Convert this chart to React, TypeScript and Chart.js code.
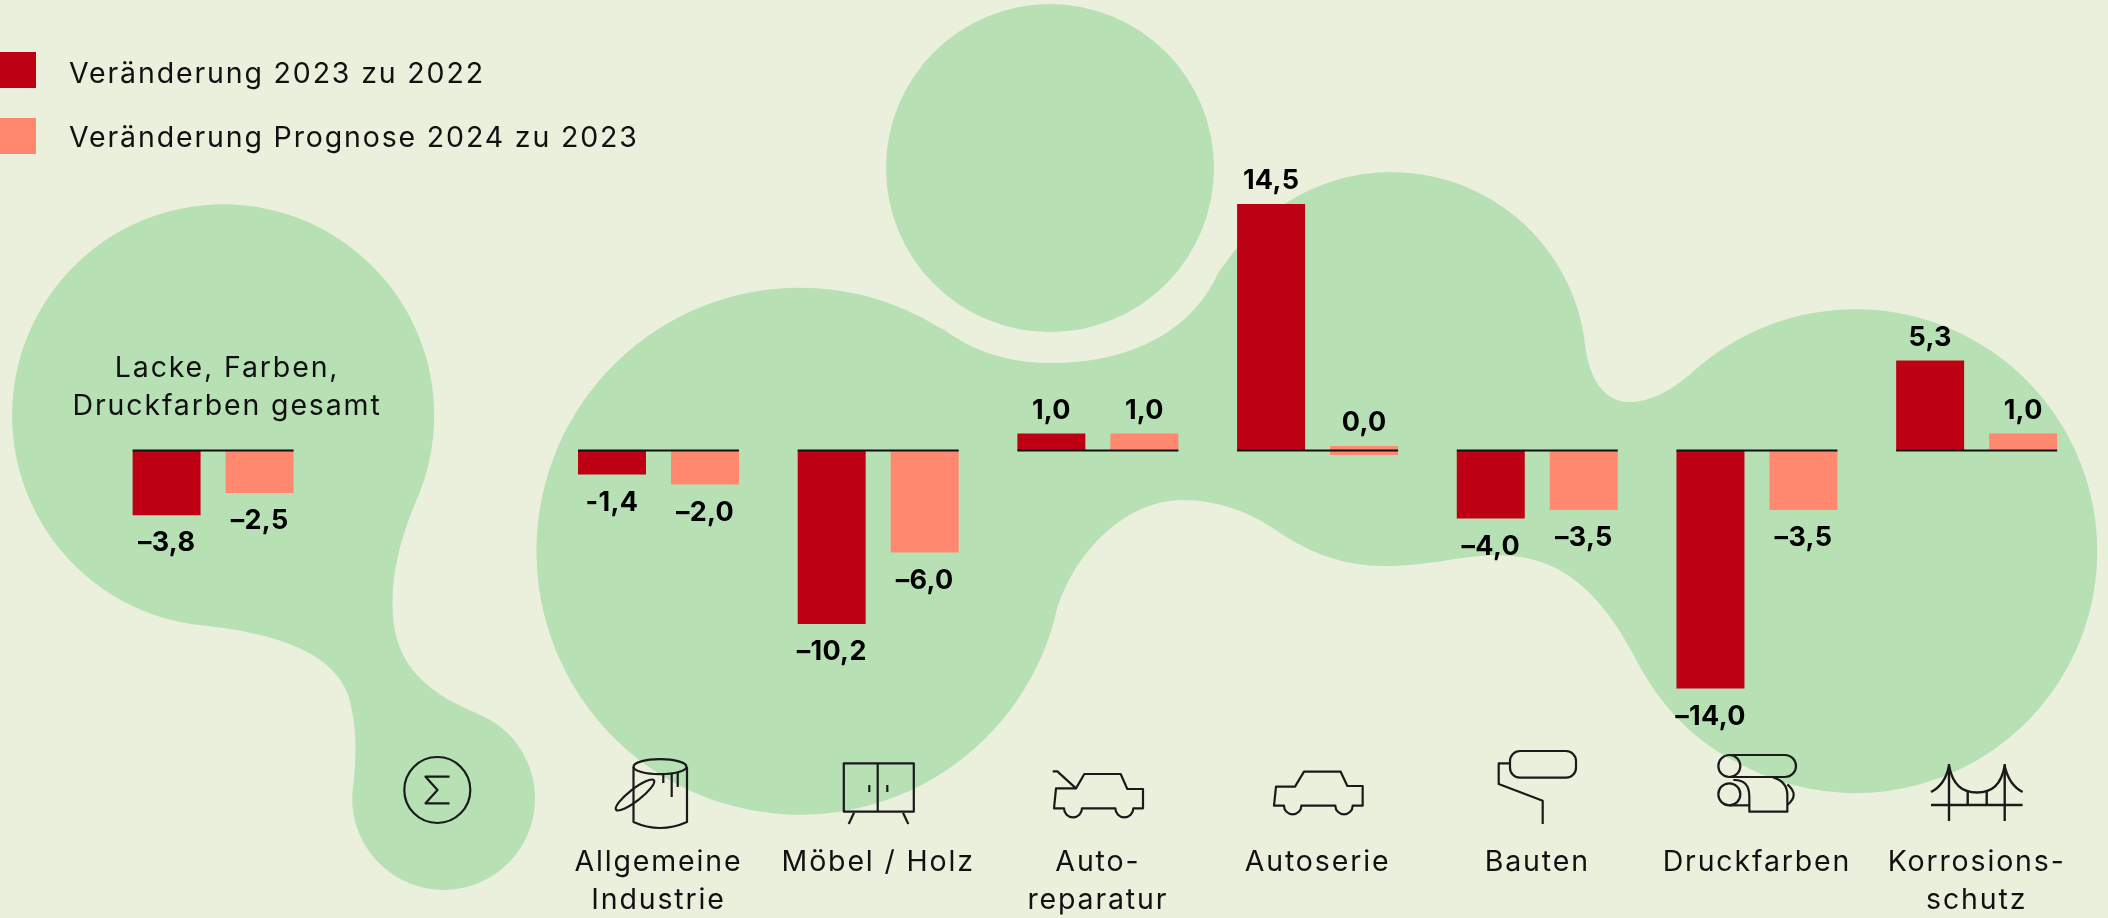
import React, { useEffect, useRef } from "react";
import { Chart, CategoryScale, registerables } from "chart.js";

Chart.register(...registerables);

class SlotCategoryScale extends CategoryScale {
  static id = "slotCategory";
  static defaults = CategoryScale.defaults;
  getPixelForValue(value: any, index?: number) {
    const px = super.getPixelForValue(value, index);
    const v = typeof value === "number" ? value : this.parse(value);
    return v === 0 ? px - 6 : px;
  }
}
Chart.register(SlotCategoryScale);

const categories: (string | string[])[] = [
  ["Lacke, Farben,", "Druckfarben gesamt"],
  "",
  ["Allgemeine", "Industrie"],
  "Möbel / Holz",
  ["Auto-", "reparatur"],
  "Autoserie",
  "Bauten",
  "Druckfarben",
  ["Korrosions-", "schutz"],
];
const change2023 = [-3.8, null, -1.4, -10.2, 1.0, 14.5, -4.0, -14.0, 5.3];
const forecast2024 = [-2.5, null, -2.0, -6.0, 1.0, 0.0, -3.5, -3.5, 1.0];
const labels2023 = ["–3,8", "", "-1,4", "–10,2", "1,0", "14,5", "–4,0", "–14,0", "5,3"];
const labels2024 = ["–2,5", "", "–2,0", "–6,0", "1,0", "0,0", "–3,5", "–3,5", "1,0"];
const seriesNames = ["Veränderung 2023 zu 2022", "Veränderung Prognose 2024 zu 2023"];

const BG = "#ebf0dd";
const GREEN = "#b7e0b5";
const RED = "#be0014";
const SALMON = "#ff886f";
const INK = "#111111";
const FONT = "Inter";
const LIGHT = `400 28.5px ${FONT}`;
const BOLD = `700 27px ${FONT}`;
const LIGHT_SPACING = "1.85px";

const d = (a: number) => (a * Math.PI) / 180;

function drawBlobs(ctx: CanvasRenderingContext2D) {
  const S = 2108 / 1568;
  ctx.save();
  ctx.scale(S, S);
  ctx.fillStyle = GREEN;
  // top circle
  ctx.beginPath();
  ctx.arc(781, 125, 122, 0, Math.PI * 2);
  ctx.fill();
  // left blob
  ctx.beginPath();
  ctx.arc(166, 309, 157, d(96), d(382));
  ctx.bezierCurveTo(300, 395, 292, 420, 292, 450);
  ctx.bezierCurveTo(292, 490, 312, 513, 354.7, 530.6);
  ctx.arc(330, 594, 68, d(-68.7), d(190));
  ctx.bezierCurveTo(265, 560, 265, 545, 262, 530);
  ctx.bezierCurveTo(258, 490, 215, 472, 150, 465);
  ctx.closePath();
  ctx.fill();
  // large blob
  ctx.beginPath();
  ctx.moveTo(702, 245);
  ctx.bezierCurveTo(725, 262, 752, 270, 782, 270);
  ctx.bezierCurveTo(835, 270, 885, 250, 906, 203);
  ctx.lineTo(918.6, 186);
  ctx.arc(1035, 273, 145, d(-143), d(-6));
  ctx.bezierCurveTo(1183, 285, 1195, 299, 1212, 299);
  ctx.bezierCurveTo(1228, 299, 1243, 290, 1255, 280);
  ctx.arc(1380, 410, 180, d(-133.9), d(120));
  ctx.bezierCurveTo(1255, 548, 1232, 520, 1215, 487);
  ctx.bezierCurveTo(1190, 440, 1160, 413, 1115, 413);
  ctx.bezierCurveTo(1085, 413, 1065, 421, 1030, 421);
  ctx.bezierCurveTo(1000, 421, 975, 412, 950, 395);
  ctx.bezierCurveTo(930, 381, 905, 372, 880, 372);
  ctx.bezierCurveTo(835, 372, 795, 415, 784.4, 460.4);
  ctx.arc(595, 410, 196, d(14.9), d(302));
  ctx.closePath();
  ctx.fill();
  ctx.restore();
}

function poly(ctx: CanvasRenderingContext2D, pts: number[][], close = false) {
  ctx.beginPath();
  pts.forEach(([x, y], i) => (i ? ctx.lineTo(x, y) : ctx.moveTo(x, y)));
  if (close) ctx.closePath();
  ctx.stroke();
}

function drawIcons(ctx: CanvasRenderingContext2D) {
  ctx.save();
  ctx.strokeStyle = "#1a1a1a";
  ctx.lineWidth = 2.2;
  ctx.lineJoin = "round";
  // sum
  ctx.beginPath();
  ctx.arc(437.3, 790, 33, 0, Math.PI * 2);
  ctx.stroke();
  poly(ctx, [[449.5, 776.7], [425.5, 776.7], [437.5, 790], [425.5, 803.3], [449.5, 803.3]]);
  // bucket
  ctx.beginPath();
  ctx.ellipse(660, 766.7, 26.5, 7.5, 0, 0, Math.PI * 2);
  ctx.stroke();
  ctx.beginPath();
  ctx.moveTo(633.5, 767);
  ctx.lineTo(633.5, 822);
  ctx.quadraticCurveTo(660, 834, 687, 822);
  ctx.lineTo(687, 767);
  ctx.stroke();
  ctx.beginPath();
  ctx.ellipse(635, 795, 24, 6, d(-38), 0, Math.PI * 2);
  ctx.stroke();
  poly(ctx, [[663.3, 773], [663.3, 783]]);
  poly(ctx, [[671.7, 773], [671.7, 797]]);
  poly(ctx, [[677.7, 773], [677.7, 787]]);
  // cabinet
  ctx.strokeRect(843.8, 763.3, 70, 48.4);
  poly(ctx, [[877.7, 763.3], [877.7, 811.7]]);
  poly(ctx, [[869.3, 785], [869.3, 792]]);
  poly(ctx, [[887.3, 785], [887.3, 792]]);
  poly(ctx, [[854, 812.7], [848.7, 824]]);
  poly(ctx, [[903, 812.7], [908.3, 824]]);
  // cars
  const ox = 1030, oy = 740;
  const car = (pts: number[][], wheels: number[], y: number, r: number) => {
    ctx.beginPath();
    pts.forEach(([x, yy], i) => (i ? ctx.lineTo(ox + x / 3, oy + yy / 3) : ctx.moveTo(ox + x / 3, oy + yy / 3)));
    const Y = oy + y / 3;
    ctx.lineTo(ox + (wheels[1] + r) / 3, Y);
    ctx.arc(ox + wheels[1] / 3, Y, r / 3, 0, Math.PI);
    ctx.lineTo(ox + (wheels[0] + r) / 3, Y);
    ctx.arc(ox + wheels[0] / 3, Y, r / 3, 0, Math.PI);
    ctx.lineTo(ox + (wheels[0] - r - 30) / 3, Y);
    ctx.closePath();
    ctx.stroke();
  };
  car([[78, 145], [138, 145], [163, 102], [272, 102], [292, 147], [339, 147], [339, 205]], [129, 283], 205, 27);
  poly(ctx, [[ox + 68 / 3, oy + 94 / 3], [ox + 82 / 3, oy + 94 / 3], [ox + 138 / 3, oy + 145 / 3]]);
  car([[738, 140], [795, 140], [822, 95], [932, 95], [952, 138], [998, 138], [998, 197]], [788, 942], 197, 26);
  // roller
  ctx.beginPath();
  ctx.roundRect(1510, 751, 66, 26.7, 10);
  ctx.stroke();
  poly(ctx, [[1510, 763.3], [1498.7, 763.3], [1498.7, 784], [1542.7, 800.7], [1542.7, 824]]);
  // print rollers
  const px = (x: number) => 1500 + x / 3;
  const py = (y: number) => 740 + y / 3;
  ctx.beginPath();
  ctx.arc(px(688), py(78), 11, 0, Math.PI * 2);
  ctx.stroke();
  ctx.beginPath();
  ctx.arc(px(688), py(163), 11, 0, Math.PI * 2);
  ctx.stroke();
  ctx.beginPath();
  ctx.moveTo(px(688), py(45));
  ctx.lineTo(px(855), py(45));
  ctx.arc(px(855), py(78), 11, -Math.PI / 2, Math.PI / 2);
  ctx.lineTo(px(688), py(111));
  ctx.stroke();
  ctx.beginPath();
  ctx.moveTo(px(700), py(120));
  ctx.quadraticCurveTo(px(748), py(118), px(748), py(170));
  ctx.lineTo(px(748), py(215));
  ctx.lineTo(px(862), py(215));
  ctx.lineTo(px(862), py(165));
  ctx.quadraticCurveTo(px(862), py(125), px(820), py(112));
  ctx.stroke();
  poly(ctx, [[px(688), py(196)], [px(748), py(196)]]);
  ctx.beginPath();
  ctx.moveTo(px(862), py(133));
  ctx.quadraticCurveTo(px(900), py(165), px(862), py(195));
  ctx.stroke();
  // bridge
  ctx.lineWidth = 2.4;
  poly(ctx, [[1931, 805], [2022.6, 805]]);
  poly(ctx, [[1949, 764], [1949, 821]]);
  poly(ctx, [[2004.7, 764], [2004.7, 821]]);
  poly(ctx, [[1967.7, 791], [1967.7, 805]]);
  poly(ctx, [[1986.7, 791], [1986.7, 805]]);
  ctx.beginPath();
  ctx.moveTo(1931, 792);
  ctx.quadraticCurveTo(1945, 785, 1949, 766);
  ctx.bezierCurveTo(1953, 785, 1962, 792.5, 1977, 792.5);
  ctx.bezierCurveTo(1992, 792.5, 2001, 785, 2004.7, 766);
  ctx.quadraticCurveTo(2009, 785, 2022.6, 792);
  ctx.stroke();
  ctx.restore();
}

const decorPlugin = {
  id: "decor",
  beforeDraw(chart: any) {
    const { ctx, width, height } = chart;
    ctx.save();
    ctx.fillStyle = BG;
    ctx.fillRect(0, 0, width, height);
    drawBlobs(ctx);
    drawIcons(ctx);
    ctx.restore();
    ctx.letterSpacing = LIGHT_SPACING; // applies to the axis tick labels too
  },
  afterDatasetsDraw(chart: any) {
    const { ctx } = chart;
    const xs = chart.scales.x;
    const ys = chart.scales.y;
    const zero = ys.getPixelForValue(0);
    const m0 = chart.getDatasetMeta(0).data;
    const m1 = chart.getDatasetMeta(1).data;
    ctx.save();
    // group base lines
    ctx.strokeStyle = INK;
    ctx.lineWidth = 2;
    change2023.forEach((v, i) => {
      if (v === null) return;
      ctx.beginPath();
      ctx.moveTo(m0[i].x - m0[i].width / 2, zero);
      ctx.lineTo(m1[i].x + m1[i].width / 2, zero);
      ctx.stroke();
    });
    // value labels
    ctx.letterSpacing = "0.3px";
    ctx.font = BOLD;
    ctx.fillStyle = "#000";
    ctx.textAlign = "center";
    ctx.textBaseline = "middle";
    [m0, m1].forEach((bars: any[], s) => {
      const lab = s === 0 ? labels2023 : labels2024;
      const vals = s === 0 ? change2023 : forecast2024;
      bars.forEach((b, i) => {
        const v = vals[i];
        if (v === null) return;
        const top = Math.min(b.y, b.base);
        const bottom = Math.max(b.y, b.base);
        ctx.fillText(lab[i], b.x, v >= 0 ? top - 23 : bottom + 28);
      });
    });
    // group title
    ctx.letterSpacing = LIGHT_SPACING;
    ctx.font = LIGHT;
    ctx.fillStyle = INK;
    const title = categories[0] as string[];
    const tx = xs.getPixelForValue(0) + 14;
    title.forEach((t, i) => ctx.fillText(t, tx, 368.5 + i * 38));
    // legend
    ctx.textAlign = "left";
    seriesNames.forEach((n, i) => {
      ctx.fillStyle = i === 0 ? RED : SALMON;
      ctx.fillRect(0, 52 + i * 66, 36, 36);
      ctx.fillStyle = INK;
      ctx.fillText(n, 69, 74.5 + i * 63.5);
    });
    ctx.restore();
  },
};

export default function App() {
  const ref = useRef<HTMLCanvasElement>(null);
  useEffect(() => {
    document.body.style.margin = "0";
    document.body.style.background = BG;
    const chart = new Chart(ref.current!, {
      type: "bar",
      data: {
        labels: categories as any,
        datasets: [
          { label: seriesNames[0], data: change2023 as any, backgroundColor: RED, minBarLength: 9 },
          { label: seriesNames[1], data: forecast2024 as any, backgroundColor: SALMON, minBarLength: 9 },
        ],
      },
      options: {
        responsive: false,
        animation: false,
        categoryPercentage: 0.8466,
        barPercentage: 0.731,
        layout: { padding: { left: 109.25, right: 21.5, top: 25.6, bottom: 0 } },
        plugins: { legend: { display: false }, tooltip: { enabled: false } },
        scales: {
          x: {
            type: "slotCategory" as any,
            grid: { display: false },
            border: { display: false },
            afterFit(s: any) {
              s.height = 195.4;
              s.paddingLeft = 0;
              s.paddingRight = 0;
            },
            ticks: {
              autoSkip: false,
              maxRotation: 0,
              padding: 112.5,
              color: INK,
              font: { family: FONT, size: 28.5, weight: "400", lineHeight: 1.34 },
              callback(this: any, _v: any, i: number) {
                return i === 0 ? "" : (categories[i] as any);
              },
            },
          },
          y: { display: false, min: -16, max: 25 },
        },
      },
      plugins: [decorPlugin],
    } as any);
    return () => chart.destroy();
  }, []);
  return (
    <div style={{ position: "absolute", left: 0, top: 0, width: 2108, height: 918, overflow: "hidden" }}>
      <canvas ref={ref} width={2108} height={918} style={{ display: "block" }} />
    </div>
  );
}
